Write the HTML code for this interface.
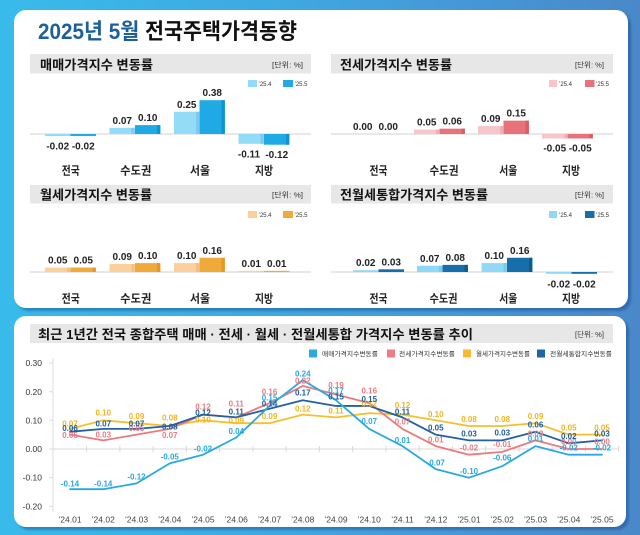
<!DOCTYPE html>
<html><head><meta charset="utf-8">
<style>
html,body{margin:0;padding:0;width:640px;height:535px;overflow:hidden}
body{position:relative;background:linear-gradient(90deg,#38bbea 0%,#3fa8e1 45%,#4a88c9 100%);font-family:"Liberation Sans","Noto Sans CJK KR",sans-serif}
.card{position:absolute;background:#fff;border-radius:12px;box-shadow:3px 3px 2px rgba(25,70,140,0.45)}
svg{position:absolute;left:0;top:0}
</style></head><body>
<div class="card" style="left:14px;top:10px;width:614px;height:298px"></div>
<div class="card" style="left:14px;top:316px;width:612px;height:211px"></div>
<svg width="640" height="535" viewBox="0 0 640 535" font-family="'Liberation Sans','Noto Sans CJK KR',sans-serif">
<!-- Title -->
<text x="38" y="39" font-size="22" font-weight="bold" textLength="259" lengthAdjust="spacingAndGlyphs"><tspan fill="#1d5f98">2025년 5월</tspan><tspan fill="#111"> 전국주택가격동향</tspan></text>

<!-- ===== Panel 1 ===== -->
<rect x="30" y="54" width="281" height="19.5" fill="#e7e7e7"/>
<text x="40" y="69.5" font-size="13" font-weight="bold" fill="#111" textLength="113" lengthAdjust="spacingAndGlyphs">매매가격지수 변동률</text>
<text x="272" y="67.5" font-size="7.5" fill="#333" textLength="31" lengthAdjust="spacingAndGlyphs">[단위: %]</text>
<rect x="248" y="80" width="9" height="7" fill="#93dbf7"/><text x="258.5" y="86" font-size="6" fill="#333">’25.4</text>
<rect x="283" y="80" width="10" height="7" fill="#1fa9e5"/><text x="294.5" y="86" font-size="6" fill="#333">’25.5</text>
<line x1="30" y1="134" x2="311" y2="134" stroke="#d0d0d0" stroke-width="1"/>
<g>
<rect x="45" y="134" width="25.5" height="2" fill="#93dbf7"/>
<rect x="70.5" y="134" width="25.5" height="2" fill="#1fa9e5"/>
<rect x="109.5" y="127.8" width="25.5" height="6.2" fill="#93dbf7"/><rect x="131.5" y="127.8" width="3" height="6.2" fill="#7ccbed"/>
<rect x="135" y="125.1" width="25.5" height="8.9" fill="#1fa9e5"/><rect x="157" y="125.1" width="3" height="8.9" fill="#1592cc"/>
<rect x="174" y="111.75" width="25.5" height="22.25" fill="#93dbf7"/><rect x="196" y="111.75" width="3" height="22.25" fill="#7ccbed"/>
<rect x="199.5" y="100.2" width="25.5" height="33.8" fill="#1fa9e5"/><rect x="221.5" y="100.2" width="3" height="33.8" fill="#1592cc"/>
<rect x="238.5" y="134" width="25.5" height="9.8" fill="#93dbf7"/><rect x="260.5" y="134" width="3" height="9.8" fill="#7ccbed"/>
<rect x="264" y="134" width="25.5" height="10.7" fill="#1fa9e5"/><rect x="286" y="134" width="3" height="10.7" fill="#1592cc"/>
</g>
<g font-size="10" font-weight="bold" fill="#222" text-anchor="middle">
<text x="57.75" y="149.5">-0.02</text><text x="83.25" y="149.5">-0.02</text>
<text x="122.25" y="123.8">0.07</text><text x="147.75" y="121.1">0.10</text>
<text x="186.75" y="107.75">0.25</text><text x="212.25" y="96.2">0.38</text>
<text x="249" y="157.3">-0.11</text><text x="276.75" y="158.2">-0.12</text>
</g>
<g font-size="11.5" font-weight="bold" fill="#222" text-anchor="middle">
<text x="70.8" y="174.5" textLength="18" lengthAdjust="spacingAndGlyphs">전국</text>
<text x="135.8" y="174.5" textLength="31" lengthAdjust="spacingAndGlyphs">수도권</text>
<text x="200" y="174.5" textLength="20" lengthAdjust="spacingAndGlyphs">서울</text>
<text x="264" y="174.5" textLength="18" lengthAdjust="spacingAndGlyphs">지방</text>
</g>

<!-- ===== Panel 2 ===== -->
<rect x="331" y="54" width="282" height="19.5" fill="#e7e7e7"/>
<text x="340" y="69.5" font-size="13" font-weight="bold" fill="#111" textLength="112" lengthAdjust="spacingAndGlyphs">전세가격지수 변동률</text>
<text x="575" y="67.5" font-size="7.5" fill="#333" textLength="29" lengthAdjust="spacingAndGlyphs">[단위: %]</text>
<rect x="549" y="80" width="8" height="7" fill="#f8c6ca"/><text x="559" y="86" font-size="6" fill="#333">’25.4</text>
<rect x="585" y="80" width="9.5" height="7" fill="#e8727a"/><text x="596" y="86" font-size="6" fill="#333">’25.5</text>
<line x1="331" y1="134" x2="613" y2="134" stroke="#d0d0d0" stroke-width="1"/>
<g>
<rect x="414" y="129.55" width="25.5" height="4.45" fill="#f8c6ca"/><rect x="436" y="129.55" width="3" height="4.45" fill="#f0b0b5"/>
<rect x="439.5" y="128.66" width="25.5" height="5.34" fill="#e8727a"/><rect x="461.5" y="128.66" width="3" height="5.34" fill="#d65e66"/>
<rect x="478" y="126" width="25.5" height="8" fill="#f8c6ca"/><rect x="500" y="126" width="3" height="8" fill="#f0b0b5"/>
<rect x="503.5" y="120.65" width="25.5" height="13.35" fill="#e8727a"/><rect x="525.5" y="120.65" width="3" height="13.35" fill="#d65e66"/>
<rect x="542" y="134" width="25.5" height="4.45" fill="#f8c6ca"/><rect x="564" y="134" width="3" height="4.45" fill="#f0b0b5"/>
<rect x="567.5" y="134" width="25.5" height="4.45" fill="#e8727a"/><rect x="589.5" y="134" width="3" height="4.45" fill="#d65e66"/>
</g>
<g font-size="10" font-weight="bold" fill="#222" text-anchor="middle">
<text x="362.75" y="130">0.00</text><text x="388.25" y="130">0.00</text>
<text x="426.75" y="125.5">0.05</text><text x="452.25" y="124.7">0.06</text>
<text x="490.75" y="122">0.09</text><text x="516.25" y="116.6">0.15</text>
<text x="554.75" y="151.5">-0.05</text><text x="580.25" y="151.5">-0.05</text>
</g>
<g font-size="11.5" font-weight="bold" fill="#222" text-anchor="middle">
<text x="378.5" y="174.5" textLength="18" lengthAdjust="spacingAndGlyphs">전국</text>
<text x="444" y="174.5" textLength="29" lengthAdjust="spacingAndGlyphs">수도권</text>
<text x="508.3" y="174.5" textLength="18" lengthAdjust="spacingAndGlyphs">서울</text>
<text x="571" y="174.5" textLength="18" lengthAdjust="spacingAndGlyphs">지방</text>
</g>

<!-- ===== Panel 3 ===== -->
<rect x="30" y="185" width="281" height="18.5" fill="#e7e7e7"/>
<text x="40" y="199.5" font-size="13" font-weight="bold" fill="#111" textLength="112" lengthAdjust="spacingAndGlyphs">월세가격지수 변동률</text>
<text x="272" y="197.5" font-size="7.5" fill="#333" textLength="31" lengthAdjust="spacingAndGlyphs">[단위: %]</text>
<rect x="248" y="211" width="9" height="7" fill="#fbd09a"/><text x="258.5" y="217" font-size="6" fill="#333">’25.4</text>
<rect x="283" y="211" width="10" height="7" fill="#f0aa3a"/><text x="294.5" y="217" font-size="6" fill="#333">’25.5</text>
<line x1="30" y1="272" x2="311" y2="272" stroke="#d0d0d0" stroke-width="1"/>
<g>
<rect x="45" y="267.55" width="25.5" height="4.45" fill="#fbd09a"/><rect x="67" y="267.55" width="3" height="4.45" fill="#f5bf80"/>
<rect x="70.5" y="267.55" width="25.5" height="4.45" fill="#f0aa3a"/><rect x="92.5" y="267.55" width="3" height="4.45" fill="#e09a2a"/>
<rect x="109.5" y="264" width="25.5" height="8" fill="#fbd09a"/><rect x="131.5" y="264" width="3" height="8" fill="#f5bf80"/>
<rect x="135" y="263.1" width="25.5" height="8.9" fill="#f0aa3a"/><rect x="157" y="263.1" width="3" height="8.9" fill="#e09a2a"/>
<rect x="174" y="263.1" width="25.5" height="8.9" fill="#fbd09a"/><rect x="196" y="263.1" width="3" height="8.9" fill="#f5bf80"/>
<rect x="199.5" y="257.76" width="25.5" height="14.24" fill="#f0aa3a"/><rect x="221.5" y="257.76" width="3" height="14.24" fill="#e09a2a"/>
<rect x="238.5" y="270.8" width="25.5" height="1.2" fill="#fbd09a"/>
<rect x="264" y="270.8" width="25.5" height="1.2" fill="#f0aa3a"/>
</g>
<g font-size="10" font-weight="bold" fill="#222" text-anchor="middle">
<text x="57.75" y="263.5">0.05</text><text x="83.25" y="263.5">0.05</text>
<text x="122.25" y="260">0.09</text><text x="147.75" y="259.1">0.10</text>
<text x="186.75" y="259.1">0.10</text><text x="212.25" y="253.8">0.16</text>
<text x="251.25" y="267">0.01</text><text x="276.75" y="267">0.01</text>
</g>
<g font-size="11.5" font-weight="bold" fill="#222" text-anchor="middle">
<text x="70.8" y="302.5" textLength="18" lengthAdjust="spacingAndGlyphs">전국</text>
<text x="135.8" y="302.5" textLength="31" lengthAdjust="spacingAndGlyphs">수도권</text>
<text x="200" y="302.5" textLength="20" lengthAdjust="spacingAndGlyphs">서울</text>
<text x="264" y="302.5" textLength="18" lengthAdjust="spacingAndGlyphs">지방</text>
</g>

<!-- ===== Panel 4 ===== -->
<rect x="331" y="185" width="282" height="18.5" fill="#e7e7e7"/>
<text x="340" y="199.5" font-size="13" font-weight="bold" fill="#111" textLength="148" lengthAdjust="spacingAndGlyphs">전월세통합가격지수 변동률</text>
<text x="575" y="197.5" font-size="7.5" fill="#333" textLength="29" lengthAdjust="spacingAndGlyphs">[단위: %]</text>
<rect x="549" y="211" width="8" height="7" fill="#8fd9f6"/><text x="559" y="217" font-size="6" fill="#333">’25.4</text>
<rect x="585" y="211" width="9.5" height="7" fill="#176ea9"/><text x="596" y="217" font-size="6" fill="#333">’25.5</text>
<line x1="331" y1="272" x2="613" y2="272" stroke="#d0d0d0" stroke-width="1"/>
<g>
<rect x="353" y="270.2" width="25.5" height="1.8" fill="#8fd9f6"/>
<rect x="378.5" y="269.3" width="25.5" height="2.7" fill="#176ea9"/>
<rect x="417" y="265.77" width="25.5" height="6.23" fill="#8fd9f6"/><rect x="439" y="265.77" width="3" height="6.23" fill="#78caee"/>
<rect x="442.5" y="264.88" width="25.5" height="7.12" fill="#176ea9"/><rect x="464.5" y="264.88" width="3" height="7.12" fill="#105a8e"/>
<rect x="481.5" y="263.1" width="25.5" height="8.9" fill="#8fd9f6"/><rect x="503.5" y="263.1" width="3" height="8.9" fill="#78caee"/>
<rect x="507" y="257.76" width="25.5" height="14.24" fill="#176ea9"/><rect x="529" y="257.76" width="3" height="14.24" fill="#105a8e"/>
<rect x="546" y="272" width="25.5" height="1.8" fill="#8fd9f6"/>
<rect x="571.5" y="272" width="25.5" height="1.8" fill="#176ea9"/>
</g>
<g font-size="10" font-weight="bold" fill="#222" text-anchor="middle">
<text x="365.75" y="266.2">0.02</text><text x="391.25" y="265.3">0.03</text>
<text x="429.75" y="261.8">0.07</text><text x="455.25" y="260.9">0.08</text>
<text x="494.25" y="259.1">0.10</text><text x="519.75" y="253.8">0.16</text>
<text x="558.75" y="287.3">-0.02</text><text x="584.25" y="287.3">-0.02</text>
</g>
<g font-size="11.5" font-weight="bold" fill="#222" text-anchor="middle">
<text x="378.5" y="302.5" textLength="18" lengthAdjust="spacingAndGlyphs">전국</text>
<text x="443.5" y="302.5" textLength="28" lengthAdjust="spacingAndGlyphs">수도권</text>
<text x="508.3" y="302.5" textLength="18" lengthAdjust="spacingAndGlyphs">서울</text>
<text x="571" y="302.5" textLength="18" lengthAdjust="spacingAndGlyphs">지방</text>
</g>

<!-- ===== Bottom line chart ===== -->
<rect x="30" y="324" width="583" height="19" fill="#e7e7e7"/>
<text x="38" y="339" font-size="13" font-weight="bold" fill="#111" textLength="435" lengthAdjust="spacingAndGlyphs">최근 1년간 전국 종합주택 매매 · 전세 · 월세 · 전월세통합 가격지수 변동률 추이</text>
<text x="575" y="337" font-size="7.5" fill="#333" textLength="29" lengthAdjust="spacingAndGlyphs">[단위: %]</text>

<rect x="309" y="349.5" width="8" height="8" fill="#29abe2"/>
<text x="322" y="356" font-size="6.5" fill="#333" textLength="56" lengthAdjust="spacingAndGlyphs">매매가격지수변동률</text>
<rect x="387" y="349.5" width="8" height="8" fill="#ee7d83"/>
<text x="399" y="356" font-size="6.5" fill="#333" textLength="56" lengthAdjust="spacingAndGlyphs">전세가격지수변동률</text>
<rect x="463" y="349.5" width="8" height="8" fill="#f5b935"/>
<text x="476" y="356" font-size="6.5" fill="#333" textLength="54" lengthAdjust="spacingAndGlyphs">월세가격지수변동률</text>
<rect x="537" y="349.5" width="8" height="8" fill="#1d65a3"/>
<text x="550" y="356" font-size="6.5" fill="#333" textLength="62" lengthAdjust="spacingAndGlyphs">전월세통합지수변동률</text>

<!-- axes -->
<line x1="53" y1="358" x2="53" y2="512" stroke="#dcdcdc" stroke-width="1"/>
<g stroke="#dcdcdc" stroke-width="1">
<line x1="49" y1="363.1" x2="53" y2="363.1"/><line x1="49" y1="391.8" x2="53" y2="391.8"/>
<line x1="49" y1="420.3" x2="53" y2="420.3"/><line x1="49" y1="449" x2="53" y2="449"/>
<line x1="49" y1="477.7" x2="53" y2="477.7"/><line x1="49" y1="506.4" x2="53" y2="506.4"/>
</g>
<g font-size="8.5" fill="#333" text-anchor="end">
<text x="42" y="366">0.30</text><text x="42" y="394.8">0.20</text><text x="42" y="423.3">0.10</text>
<text x="42" y="452">0.00</text><text x="42" y="480.7">-0.10</text><text x="42" y="509.4">-0.20</text>
</g>
<line x1="53" y1="449" x2="618" y2="449" stroke="#d8d8d8" stroke-width="1"/>
<g stroke="#d8d8d8" stroke-width="1">
<line x1="86.6" y1="446" x2="86.6" y2="452"/><line x1="119.9" y1="446" x2="119.9" y2="452"/>
<line x1="153.1" y1="446" x2="153.1" y2="452"/><line x1="186.4" y1="446" x2="186.4" y2="452"/>
<line x1="219.6" y1="446" x2="219.6" y2="452"/><line x1="252.9" y1="446" x2="252.9" y2="452"/>
<line x1="286.1" y1="446" x2="286.1" y2="452"/><line x1="319.4" y1="446" x2="319.4" y2="452"/>
<line x1="352.6" y1="446" x2="352.6" y2="452"/><line x1="385.9" y1="446" x2="385.9" y2="452"/>
<line x1="419.1" y1="446" x2="419.1" y2="452"/><line x1="452.4" y1="446" x2="452.4" y2="452"/>
<line x1="485.6" y1="446" x2="485.6" y2="452"/><line x1="518.9" y1="446" x2="518.9" y2="452"/>
<line x1="552.1" y1="446" x2="552.1" y2="452"/><line x1="585.4" y1="446" x2="585.4" y2="452"/>
<line x1="618.6" y1="446" x2="618.6" y2="452"/>
</g>
<g font-size="8.5" fill="#444" text-anchor="middle">
<text x="70" y="522.5">’24.01</text><text x="103.25" y="522.5">’24.02</text><text x="136.5" y="522.5">’24.03</text>
<text x="169.75" y="522.5">’24.04</text><text x="203" y="522.5">’24.05</text><text x="236.25" y="522.5">’24.06</text>
<text x="269.5" y="522.5">’24.07</text><text x="302.75" y="522.5">’24.08</text><text x="336" y="522.5">’24.09</text>
<text x="369.25" y="522.5">’24.10</text><text x="402.5" y="522.5">’24.11</text><text x="435.75" y="522.5">’24.12</text>
<text x="469" y="522.5">’25.01</text><text x="502.25" y="522.5">’25.02</text><text x="535.5" y="522.5">’25.03</text>
<text x="568.75" y="522.5">’25.04</text><text x="602" y="522.5">’25.05</text>
</g>

<!-- series lines -->
<g fill="none" stroke-width="1.8" stroke-linejoin="round" stroke-linecap="round">
<polyline stroke="#f5c02e" points="70,428.9 103.25,420.3 136.5,423.2 169.75,426 203,420.3 236.25,423.2 269.5,423.2 302.75,414.6 336,417.4 369.25,413.2 402.5,414.6 435.75,420.3 469,426 502.25,426 535.5,423.2 568.75,434.65 602,434.65"/>
<polyline stroke="#ea7a80" points="70,434.65 103.25,440.4 136.5,434.65 169.75,428.9 203,414.6 236.25,417.4 269.5,403.1 302.75,385.9 336,394.5 369.25,403.1 402.5,428.9 435.75,446.1 469,454.7 502.25,451.9 535.5,440.4 568.75,449 602,449"/>
<polyline stroke="#2361a1" points="70,431.8 103.25,428.9 136.5,428.9 169.75,426 203,414.6 236.25,417.4 269.5,408.8 302.75,400.2 336,405.95 369.25,405.95 402.5,417.4 435.75,434.65 469,440.4 502.25,440.4 535.5,431.8 568.75,443.3 602,440.4"/>
<polyline stroke="#2aa9e0" points="70,489.2 103.25,489.2 136.5,483.4 169.75,463.35 203,454.7 236.25,437.5 269.5,405.95 302.75,380.1 336,400.2 369.25,428.9 402.5,446.1 435.75,469.1 469,477.7 502.25,466.2 535.5,446.1 568.75,454.7 602,454.7"/>
</g>

<!-- data labels -->
<g font-size="8" font-weight="bold" text-anchor="middle">
<g fill="#f2b41f">
<text x="70" y="426.3">0.07</text><text x="103.25" y="415.7">0.10</text><text x="136.5" y="419">0.09</text>
<text x="169.75" y="420.3">0.08</text><text x="203" y="422.3">0.10</text><text x="236.25" y="423.5">0.09</text>
<text x="269.5" y="419">0.09</text><text x="302.75" y="411.3">0.12</text><text x="336" y="413.7">0.11</text>
<text x="369.25" y="406.3">0.12</text><text x="402.5" y="408">0.12</text><text x="435.75" y="417">0.10</text>
<text x="469" y="422">0.08</text><text x="502.25" y="422">0.08</text><text x="535.5" y="419">0.09</text>
<text x="568.75" y="430.3">0.05</text><text x="602" y="430.3">0.05</text>
</g>
<g fill="#ea7b82">
<text x="70" y="438">0.05</text><text x="103.25" y="437.3">0.03</text><text x="136.5" y="431">0.05</text>
<text x="169.75" y="438">0.07</text><text x="203" y="409.7">0.12</text><text x="236.25" y="406.3">0.11</text>
<text x="269.5" y="394.7">0.16</text><text x="302.75" y="383.7">0.22</text><text x="336" y="388">0.19</text>
<text x="369.25" y="393.7">0.16</text><text x="402.5" y="424.7">0.07</text><text x="435.75" y="442.3">0.01</text>
<text x="469" y="450.7">-0.02</text><text x="502.25" y="447">-0.01</text><text x="535.5" y="436.3">0.03</text>
<text x="568.75" y="444.7">0.00</text><text x="602" y="444.7">0.00</text>
</g>
<g fill="#1e5d9c">
<text x="70" y="431">0.06</text><text x="103.25" y="426.3">0.07</text><text x="136.5" y="426.3">0.07</text>
<text x="169.75" y="429.7">0.08</text><text x="203" y="415.3">0.12</text><text x="236.25" y="414.7">0.11</text>
<text x="269.5" y="406.3">0.14</text><text x="302.75" y="395.3">0.17</text><text x="336" y="399.7">0.15</text>
<text x="369.25" y="402">0.15</text><text x="402.5" y="414.7">0.11</text><text x="435.75" y="430.3">0.05</text>
<text x="469" y="436.3">0.03</text><text x="502.25" y="435.3">0.03</text><text x="535.5" y="427.3">0.06</text>
<text x="568.75" y="439">0.02</text><text x="602" y="436.3">0.03</text>
</g>
<g fill="#29a8e0">
<text x="70" y="486.3">-0.14</text><text x="103.25" y="486.3">-0.14</text><text x="136.5" y="479.7">-0.12</text>
<text x="169.75" y="459.7">-0.05</text><text x="203" y="451.3">-0.02</text><text x="236.25" y="434">0.04</text>
<text x="269.5" y="400.3">0.15</text><text x="302.75" y="376.3">0.24</text><text x="336" y="393.7">0.17</text>
<text x="369.25" y="424">0.07</text><text x="402.5" y="443">0.01</text><text x="435.75" y="465.7">-0.07</text>
<text x="469" y="474">-0.10</text><text x="502.25" y="460.7">-0.06</text><text x="535.5" y="441.7">0.01</text>
<text x="568.75" y="450.3">-0.02</text><text x="602" y="450.3">-0.02</text>
</g>
</g>
</svg>
</body></html>
